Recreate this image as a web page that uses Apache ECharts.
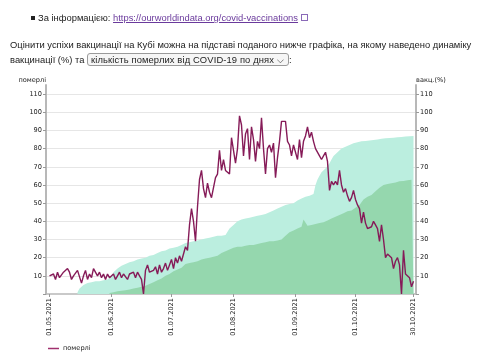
<!DOCTYPE html>
<html><head><meta charset="utf-8">
<script src="https://cdn.jsdelivr.net/npm/echarts@6/dist/echarts.min.js"></script>
<style>
html,body{margin:0;padding:0;background:#fff;width:483px;height:361px;overflow:hidden;}
#chart{position:absolute;left:0;top:0;width:483px;height:361px;}
.txt{position:absolute;font-family:"Liberation Sans",Arial,sans-serif;font-size:9.4px;color:#222;white-space:nowrap;line-height:12px;}
.bullet{position:absolute;left:31px;top:16px;width:4px;height:4px;background:#222;}
a{color:#6a3a9c;text-decoration:underline;}
.ext{display:inline-block;width:5px;height:5px;border:1px solid #8a6ab8;margin-left:3px;position:relative;top:0px;}
.sel{display:inline-block;border:1px solid #9a9a9a;border-radius:3px;background:#f6f6f6;padding:0 4px 0 3px;height:11px;line-height:11px;position:relative;top:0px;font-size:9.4px;letter-spacing:0.12px;}
</style></head><body>
<div id="chart"></div>
<div class="bullet"></div>
<div class="txt" style="left:38px;top:12px">За інформацією: <a>https://ourworldindata.org/covid-vaccinations</a><span class="ext"></span></div>
<div class="txt" style="left:10px;top:39px">Оцінити успіхи вакцинації на Кубі можна на підставі поданого нижче графіка, на якому наведено динаміку</div>
<div class="txt" style="left:10px;top:53px">вакцинації (%) та <span class="sel">кількість померлих від COVID-19 по днях &#x2335;</span>:</div>
<script>
// daily values from 01.05.2021 to 30.10.2021
const startYear = 2021, startMonth = 5, startDay = 1;
const deaths = [
 10,10,11,8,12,9,10,12,11,14,12,8,10,9,13,12,6,10,13,8,11,9,14,13,10,12,9,11,8,11,9,
 9,11,8,10,12,9,11,12,8,11,10,12,9,12,10,8,0,13,16,12,11,13,15,11,16,12,14,17,13,16,
 19,14,20,17,21,18,22,26,24,38,47,40,29,48,63,68,58,53,61,56,53,53,64,66,79,68,74,68,67,66,86,
 87,72,80,98,93,76,88,91,74,92,85,73,84,80,97,80,66,80,82,78,83,64,75,84,95,96,95,84,82,76,82,
 78,74,85,75,84,87,92,86,89,84,80,80,76,74,76,78,73,57,62,60,62,60,68,60,56,58,54,51,53,57,
 52,49,47,39,45,39,36,35,37,40,38,36,29,38,30,20,22,22,20,14,18,20,16,0,24,11,10,9,4,7
];
const vaccOneDose = [
 null,null,null,null,null,null,null,null,null,null,null,null,null,null,
 1,3,4,5,5.5,6,6,6.5,6.5,7,7,7,7.5,7.5,7.5,8,8,
 10,12,13,14,15,15.5,16,16.5,17,17.5,18,18,18.5,19,19,19.5,20,20,20.5,21,21.5,21.5,22,22.5,23,23.5,24,24,24.5,25,
 25.5,25.5,26,26,26.5,27,27,28,28,28.5,28.5,29,29,29.5,29.5,30,30,30.5,30.5,31,31,31.5,31.5,32,32,32,32.5,32.5,33,36,37,
 38,39,40,41,41,41.5,41.5,42,42,42.5,42.5,43,43,43.5,43.5,44,44,44.5,45,45.5,46,46.5,47,47.5,48,48.5,49,49,49.5,50,50,
 51,51.5,52,52.5,53,53.5,54,54,54.5,55,60,63,65,67,68,69,69.5,72,74,76,77,78,79,80,80.6,81,81.5,82,82.5,83,
 83.5,83.5,84,84,84,84.2,84.4,84.5,84.6,84.8,85,85,85.2,85.4,85.6,85.7,85.8,85.9,86,86,86.1,86.2,86.3,86.4,86.5,86.6,86.7,86.8,86.9,87
];
const vaccFull = [
 null,null,null,null,null,null,null,null,null,null,null,null,null,null,null,
 null,null,null,null,null,null,null,null,null,null,null,null,null,null,null,0.5,
 1,1,1.2,1.5,1.5,1.8,2,2,2.2,2.5,2.8,3,3,3.5,3.8,4,4.2,4.5,5,5.5,6,6.5,7,7.5,8,8.5,9.5,10,10.5,11,
 11.5,12.5,13,13.5,14,14.5,15.5,16.5,17,17,17.5,17.5,18,18,18.5,19,19,19.5,19.5,20,20,20.5,20.5,21,22,22.5,23,23.5,24,24.5,25,
 25.5,25.5,26,26,26,26.5,26.5,26.5,27,27,27,27.5,27.5,28,28,28,28.5,28.5,29,29,29,29.5,29.5,30,30,31,32,33,34,34.5,35,
 35.5,36,36.5,37,41,41,37.5,38,38,38.5,38.5,39,39,39.5,39.5,40,40.5,41,41.5,42,42.5,43,43.5,44,44.5,45,45.5,46,46,46.5,
 47.5,48,49,50.5,52,53,53.5,54,54.5,55.5,56.5,57.5,58.5,59.5,60,60.5,60.5,61,61,61.2,61.4,61.6,62,62,62.2,62.4,62.6,62.8,62.9,63
];
const xTickLabels = ['01.05.2021','01.06.2021','01.07.2021','01.08.2021','01.09.2021','01.10.2021','30.10.2021'];
const seriesNames = ['померлі','вакциновані (1 доза)','вакциновані (повністю)'];
const yNameLeft = 'померлі', yNameRight = 'вакц.(%)';

const dayTs = i => new Date(startYear, startMonth - 1, startDay + i).getTime();
const toPairs = arr => arr.map((v, i) => [dayTs(i), v]);
const parseLbl = s => { const p = s.split('.').map(Number); return new Date(p[2], p[1] - 1, p[0]).getTime(); };
const tickVals = xTickLabels.map(parseLbl);
const pad = n => (n < 10 ? '0' : '') + n;
const fmtDate = v => { const d = new Date(v); return pad(d.getDate()) + '.' + pad(d.getMonth() + 1) + '.' + d.getFullYear(); };
const tMin = new Date(startYear, startMonth - 1, startDay - 2, 6).getTime();
const tMax = new Date(startYear, startMonth - 1, startDay + deaths.length, 6).getTime();

const axisGrey = '#b8b8b8';
const lblStyle = {fontFamily: 'DejaVu Sans', fontSize: 6.6, color: '#222'};
const yAxisBase = {
  type: 'value', min: 0, max: 115, interval: 10,
  axisLine: {show: true, lineStyle: {color: axisGrey, width: 2}},
  axisTick: {show: true, length: 3, lineStyle: {color: '#999'}},
  axisLabel: Object.assign({margin: 4, showMaxLabel: false, formatter: v => (v > 0 && v <= 110 ? String(v) : '')}, lblStyle),
  nameLocation: 'end', nameGap: 1.5
};

const chart = echarts.init(document.getElementById('chart'), null, {renderer: 'canvas'});
chart.setOption({
  animation: false,
  textStyle: {fontFamily: 'DejaVu Sans'},
  grid: {left: 46, right: 67, top: 85, bottom: 67, containLabel: false, outerBoundsMode: 'none'},
  legend: {data: [seriesNames[0]], left: 48, top: 345, padding: 0, icon: 'rect', itemWidth: 11, itemHeight: 1.5, itemGap: 10,
    textStyle: Object.assign({padding: [0, 0, 0, -1]}, lblStyle)},
  xAxis: {
    type: 'value', min: tMin, max: tMax, scale: true,
    axisLine: {show: true, onZero: false, lineStyle: {color: axisGrey, width: 1.5}},
    axisTick: {show: true, customValues: tickVals, length: 3, lineStyle: {color: '#999'}},
    axisLabel: Object.assign({customValues: tickVals, rotate: 90, margin: 4, formatter: v => fmtDate(v), hideOverlap: false}, lblStyle),
    splitLine: {show: false}
  },
  yAxis: [
    Object.assign({}, yAxisBase, {position: 'left', name: yNameLeft,
      nameTextStyle: Object.assign({align: 'right'}, lblStyle),
      splitLine: {show: true, showMinLine: false, showMaxLine: false, lineStyle: {color: '#e6e6e6', width: 1}}}),
    Object.assign({}, yAxisBase, {position: 'right', name: yNameRight,
      nameTextStyle: Object.assign({align: 'left'}, lblStyle),
      splitLine: {show: false}})
  ],
  series: [
    {name: seriesNames[1], type: 'line', yAxisIndex: 1, data: toPairs(vaccOneDose), symbol: 'none', silent: true,
      lineStyle: {width: 0}, areaStyle: {color: '#bbeedf', opacity: 1}, z: 1},
    {name: seriesNames[2], type: 'line', yAxisIndex: 1, data: toPairs(vaccFull), symbol: 'none', silent: true,
      lineStyle: {width: 0}, areaStyle: {color: '#95d7ae', opacity: 1}, z: 2},
    {name: seriesNames[0], type: 'line', yAxisIndex: 0, data: toPairs(deaths), symbol: 'none', showSymbol: false,
      lineStyle: {color: '#861b58', width: 1.4}, itemStyle: {color: '#a0306e'}, z: 3}
  ]
});
</script>
</body></html>
